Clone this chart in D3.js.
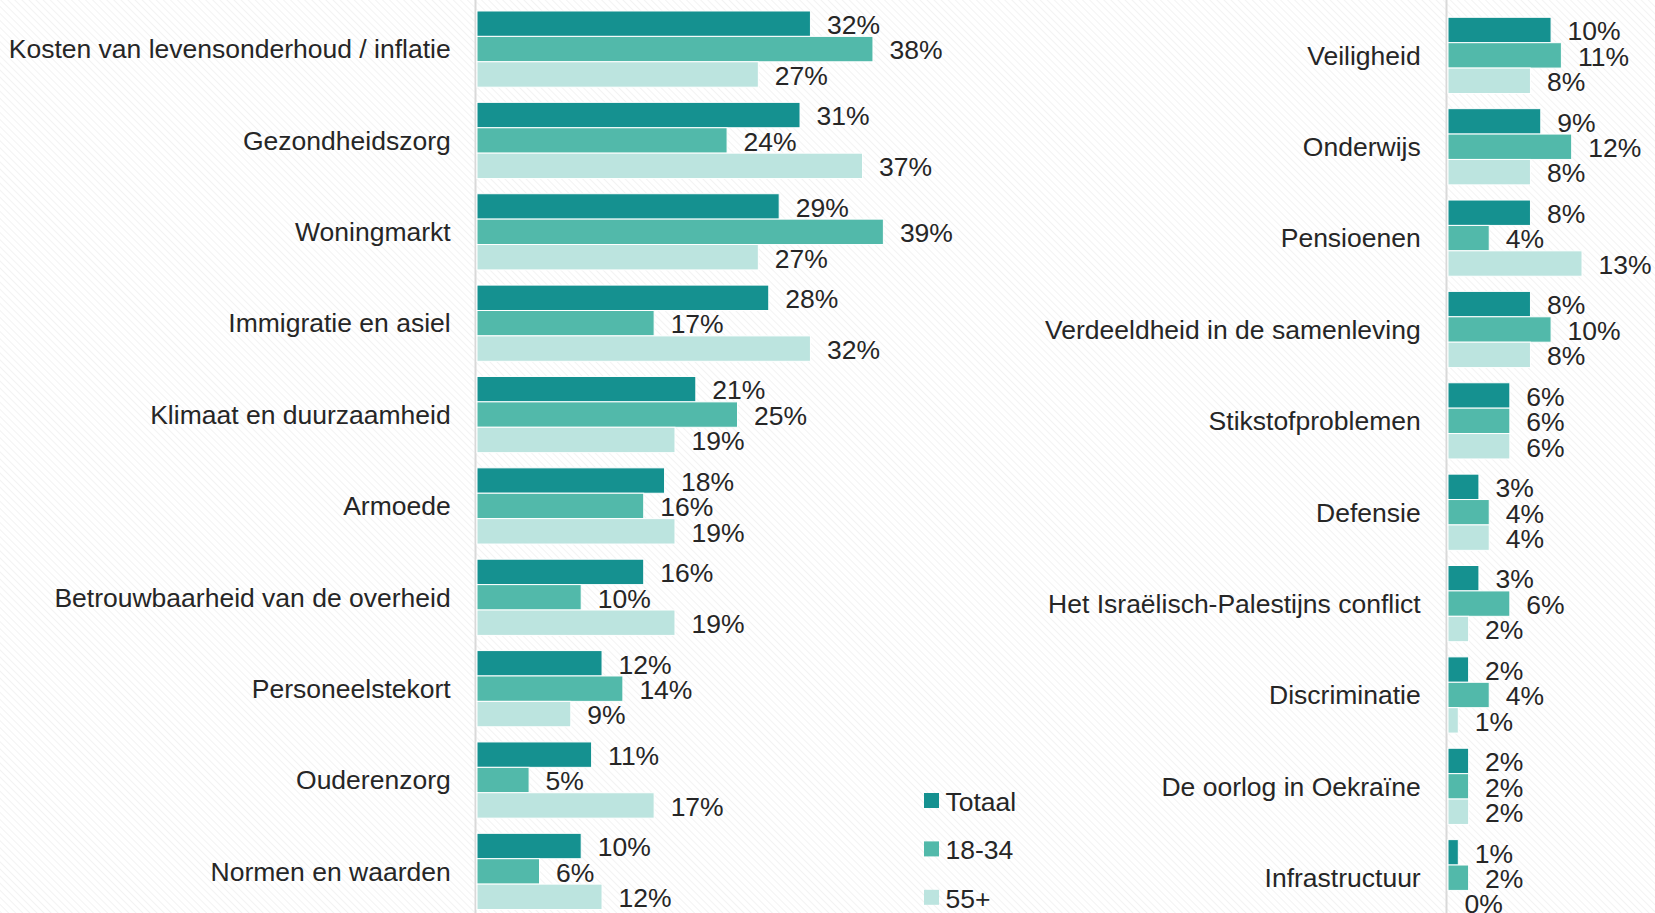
<!DOCTYPE html>
<html>
<head>
<meta charset="utf-8">
<script src="https://cdn.jsdelivr.net/npm/d3@7"></script>
<style>
  html, body { margin: 0; padding: 0; background: #fff; }
  svg { display: block; }
  text { font-family: "Liberation Sans", Arial, sans-serif; fill: #262626; }
</style>
</head>
<body>
<svg id="chart" width="1655" height="913"></svg>
<script>
const series = ["Totaal", "18-34", "55+"];
const colors = ["#159190", "#52b9aa", "#bce4df"];

const leftCategories = [
  "Kosten van levensonderhoud / inflatie",
  "Gezondheidszorg",
  "Woningmarkt",
  "Immigratie en asiel",
  "Klimaat en duurzaamheid",
  "Armoede",
  "Betrouwbaarheid van de overheid",
  "Personeelstekort",
  "Ouderenzorg",
  "Normen en waarden"
];
const leftTotaal = [32, 31, 29, 28, 21, 18, 16, 12, 11, 10];
const left1834   = [38, 24, 39, 17, 25, 16, 10, 14, 5, 6];
const left55     = [27, 37, 27, 32, 19, 19, 19, 9, 17, 12];

const rightCategories = [
  "Veiligheid",
  "Onderwijs",
  "Pensioenen",
  "Verdeeldheid in de samenleving",
  "Stikstofproblemen",
  "Defensie",
  "Het Israëlisch-Palestijns conflict",
  "Discriminatie",
  "De oorlog in Oekraïne",
  "Infrastructuur"
];
const rightTotaal = [10, 9, 8, 8, 6, 3, 3, 2, 2, 1];
const right1834   = [11, 12, 4, 10, 6, 4, 6, 4, 2, 2];
const right55     = [8, 8, 13, 8, 6, 4, 2, 1, 2, 0];

const svg = d3.select("#chart");
const W = 1655, H = 913;

// background hatching
const defs = svg.append("defs");
const pat = defs.append("pattern")
  .attr("id", "hatch").attr("patternUnits", "userSpaceOnUse")
  .attr("width", 5).attr("height", 5)
  .attr("patternTransform", "rotate(-45)");
pat.append("rect").attr("width", 5).attr("height", 5).attr("fill", "#ffffff");
pat.append("line").attr("x1", 0).attr("y1", 0).attr("x2", 0).attr("y2", 5)
  .attr("stroke", "#ececec").attr("stroke-width", 1.2);
svg.append("rect").attr("width", W).attr("height", H).attr("fill", "url(#hatch)");

const FS = 26.5;

function panel(cats, vals, cfg) {
  const g = svg.append("g");
  const x = d3.scaleLinear().domain(cfg.domain).range(cfg.xRange);
  const y = d3.scaleBand().domain(cats).range(cfg.yRange).paddingInner(0.166).paddingOuter(0.083);
  const ys = d3.scaleBand().domain(series).range([0, y.bandwidth()]);

  // axis line
  g.append("line")
    .attr("x1", cfg.xRange[0] - 1.5).attr("x2", cfg.xRange[0] - 1.5)
    .attr("y1", 0).attr("y2", H)
    .attr("stroke", "#d9d9d9").attr("stroke-width", 2);

  // category labels
  const yAxis = d3.axisLeft(y).tickSize(0).tickPadding(0);
  const ag = g.append("g").attr("transform", `translate(${cfg.labelX},0)`).call(yAxis);
  ag.select(".domain").remove();
  ag.selectAll("text").attr("font-size", FS).attr("fill", "#262626")
    .attr("font-family", '"Liberation Sans", Arial, sans-serif').attr("dy", "0.35em").attr("dx", 0);

  cats.forEach((c, i) => {
    series.forEach((s, j) => {
      const v = vals[j][i];
      const yy = y(c) + ys(s);
      g.append("rect")
        .attr("x", x(0)).attr("y", yy)
        .attr("width", Math.max(0, x(v) - x(0))).attr("height", ys.bandwidth())
        .attr("fill", colors[j]).attr("stroke", "#ffffff").attr("stroke-width", 1);
      g.append("text")
        .attr("x", x(v) + 16.5).attr("y", yy + ys.bandwidth() / 2 + 1)
        .attr("dy", "0.35em").attr("font-size", FS)
        .text(v + "%");
    });
  });
}

panel(leftCategories, [leftTotaal, left1834, left55], {
  domain: [0, 40], xRange: [477, 477 + 40 * 10.42],
  yRange: [3.4, 917.1], labelX: 450.7
});
panel(rightCategories, [rightTotaal, right1834, right55], {
  domain: [0, 13], xRange: [1448, 1448 + 134],
  yRange: [9.7, 923.4], labelX: 1420.7
});

// legend
const lg = svg.append("g").attr("transform", "translate(924,793)");
series.forEach((s, i) => {
  const row = lg.append("g").attr("transform", `translate(0,${i * 48.4})`);
  row.append("rect").attr("width", 15).attr("height", 15).attr("fill", colors[i]);
  row.append("text").attr("x", 21.5).attr("y", 8.5).attr("dy", "0.35em")
    .attr("font-size", FS).text(s);
});
</script>
</body>
</html>
